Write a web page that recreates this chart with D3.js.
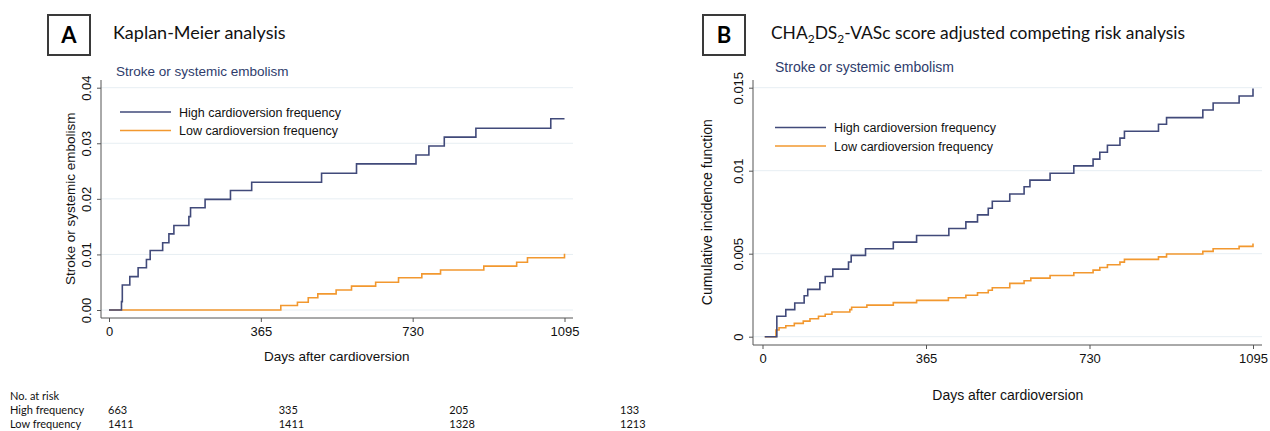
<!DOCTYPE html>
<html>
<head>
<meta charset="utf-8">
<script src="https://cdn.jsdelivr.net/npm/d3@7"></script>
<style>
  body { margin: 0; background: #fff; }
  svg { display: block; }
</style>
</head>
<body>
<div id="chart"></div>
<script>
// Panel A: Kaplan-Meier, step times (days) and cumulative proportion with event
const kmHighDays = [0, 30, 32, 50, 70, 90, 99, 129, 144, 156, 192, 196, 231, 292, 343, 511, 595, 738, 769, 806, 882, 1062, 1095];
const kmHighVals = [0, 0.0015, 0.0045, 0.0060, 0.0076, 0.0091, 0.0107, 0.0121, 0.0137, 0.0152, 0.0168, 0.0184, 0.0199, 0.0215, 0.0230, 0.0246, 0.0263, 0.0279, 0.0295, 0.0311, 0.0327, 0.0344, 0.0344];
const kmLowDays = [0, 413, 453, 479, 502, 546, 583, 641, 696, 752, 797, 901, 980, 1006, 1095];
const kmLowVals = [0, 0.0008, 0.0014, 0.0022, 0.0029, 0.0036, 0.0043, 0.0050, 0.0058, 0.0065, 0.0072, 0.0079, 0.0086, 0.0094, 0.0101];

// Panel B: adjusted cumulative incidence function
const cifHighDays = [5, 32, 52, 72, 93, 101, 128, 140, 157, 192, 198, 230, 292, 344, 416, 454, 480, 504, 513, 552, 584, 597, 642, 695, 738, 753, 770, 798, 808, 884, 902, 983, 1006, 1064, 1095];
const cifHighVals = [0, 0.00123, 0.00163, 0.00203, 0.00247, 0.00285, 0.00325, 0.00363, 0.00407, 0.0045, 0.0049, 0.0053, 0.0057, 0.0061, 0.00652, 0.00692, 0.00734, 0.00774, 0.00816, 0.0086, 0.00903, 0.00943, 0.00985, 0.01029, 0.0107, 0.01111, 0.01153, 0.01196, 0.01238, 0.0128, 0.0132, 0.01366, 0.01408, 0.0145, 0.01495];
const cifLowDays = [5, 30, 37, 52, 71, 91, 106, 125, 140, 155, 195, 199, 233, 292, 344, 415, 454, 480, 504, 513, 552, 584, 599, 642, 695, 738, 753, 770, 798, 808, 884, 902, 983, 1006, 1064, 1095];
const cifLowVals = [0, 0.0004, 0.00054, 0.00066, 0.0008, 0.00094, 0.00108, 0.00123, 0.00135, 0.00149, 0.00163, 0.00177, 0.0019, 0.00205, 0.00219, 0.00235, 0.0025, 0.00265, 0.0028, 0.00295, 0.00321, 0.00337, 0.00353, 0.00369, 0.00385, 0.00401, 0.00417, 0.00433, 0.00449, 0.00466, 0.00481, 0.00498, 0.00514, 0.0053, 0.00544, 0.00562];

const xTicks = [0, 365, 730, 1095];
const yTicksA = [0, 0.01, 0.02, 0.03, 0.04];
const yTicksB = [0, 0.005, 0.01, 0.015];
const legendLabels = ["High cardioversion frequency", "Low cardioversion frequency"];

// number at risk table
const riskTimes = [0, 365, 730, 1095];
const riskGroups = ["High frequency", "Low frequency"];
const riskHigh = [663, 335, 205, 133];
const riskLow = [1411, 1411, 1328, 1213];

const navy = "#414a7a";
const orange = "#f2982f";
const chartFont = "'Liberation Sans', Arial, sans-serif";
const slideFont = "Lato, 'Open Sans', sans-serif";

const svg = d3.select("#chart").append("svg")
    .attr("width", 1270)
    .attr("height", 431);

function zip(days, vals) {
    return days.map((d, i) => ({day: d, val: vals[i]}));
}

function drawPanel(p) {
    const x = d3.scaleLinear().domain([0, 1095]).range(p.xRange);
    const y = d3.scaleLinear().domain(p.yDomain).range(p.yRange);
    const g = svg.append("g");

    // letter box + slide title
    g.append("rect")
        .attr("x", p.box[0]).attr("y", p.box[1])
        .attr("width", 42).attr("height", 40)
        .attr("fill", "none").attr("stroke", "#3a3a3a").attr("stroke-width", 2);
    g.append("text")
        .attr("x", p.box[0] + 21).attr("y", p.box[1] + 28)
        .attr("text-anchor", "middle")
        .style("font-family", slideFont).style("font-weight", "bold").style("font-size", "22px")
        .text(p.letter);
    const title = g.append("text")
        .attr("x", p.titleX).attr("y", 39)
        .style("font-family", slideFont).style("font-size", p.titleSize + "px").style("fill", "#111");
    p.title.forEach(part => {
        title.append("tspan")
            .attr("dy", part.sub ? 4 : (part.after ? -4 : 0))
            .style("font-size", part.sub ? "12px" : null)
            .text(part.t);
    });

    g.append("text")
        .attr("x", p.subX).attr("y", p.subY)
        .style("font-family", chartFont).style("font-size", p.fs + "px").style("fill", "#2e3c6c")
        .text("Stroke or systemic embolism");

    // gridlines
    g.selectAll(".grid")
        .data(p.yTicks)
        .join("line")
        .attr("x1", p.axisX).attr("x2", p.rightX)
        .attr("y1", d => y(d)).attr("y2", d => y(d))
        .attr("stroke", "#e7eef3").attr("stroke-width", 1);

    // y axis
    const yAxis = g.append("g")
        .attr("transform", `translate(${p.axisX},0)`)
        .call(d3.axisLeft(y).tickValues(p.yTicks).tickFormat(p.yFormat).tickSize(4).tickSizeOuter(0));
    yAxis.select(".domain").remove();
    yAxis.append("line")
        .attr("y1", p.axisTop).attr("y2", p.axisY)
        .attr("stroke", "#555");
    yAxis.selectAll(".tick line").attr("stroke", "#555");
    yAxis.selectAll(".tick text")
        .attr("x", null).attr("dy", null)
        .attr("transform", "translate(-15,0) rotate(-90)")
        .attr("text-anchor", "middle")
        .attr("dy", "0.36em")
        .style("font-family", chartFont).style("font-size", "13px").style("fill", "#111");

    // x axis
    const xAxis = g.append("g")
        .attr("transform", `translate(0,${p.axisY})`)
        .call(d3.axisBottom(x).tickValues(xTicks).tickFormat(d3.format("d")).tickSize(4).tickSizeOuter(0));
    xAxis.select(".domain").remove();
    xAxis.append("line")
        .attr("x1", p.axisX).attr("x2", p.rightX)
        .attr("stroke", "#555");
    xAxis.selectAll(".tick line").attr("stroke", "#555");
    xAxis.selectAll(".tick text")
        .attr("y", 9)
        .style("font-family", chartFont).style("font-size", "13px").style("fill", "#111");

    // axis titles
    g.append("text")
        .attr("x", (p.xRange[0] + p.xRange[1]) / 2).attr("y", p.xTitleY)
        .attr("text-anchor", "middle")
        .style("font-family", chartFont).style("font-size", p.fs + "px").style("fill", "#111")
        .text("Days after cardioversion");
    g.append("text")
        .attr("transform", `translate(${p.yTitleX},${(p.yRange[0] + p.yRange[1]) / 2}) rotate(-90)`)
        .attr("text-anchor", "middle")
        .style("font-family", chartFont).style("font-size", p.fs + "px").style("fill", "#111")
        .text(p.yTitle);

    // step curves
    const line = d3.line()
        .x(d => x(d.day))
        .y(d => y(d.val))
        .curve(d3.curveStepAfter);
    [p.low, p.high].forEach((s, i) => {
        g.append("path")
            .datum(s)
            .attr("d", line)
            .attr("fill", "none")
            .attr("stroke", i === 0 ? orange : navy)
            .attr("stroke-width", 1.6);
    });

    // legend
    legendLabels.forEach((lab, i) => {
        const ly = p.legend[1] + i * p.legendGap;
        g.append("line")
            .attr("x1", p.legend[0]).attr("x2", p.legend[0] + 51)
            .attr("y1", ly).attr("y2", ly)
            .attr("stroke", i === 0 ? navy : orange).attr("stroke-width", 1.6);
        g.append("text")
            .attr("x", p.legend[0] + 59).attr("y", ly + 4.5)
            .style("font-family", chartFont).style("font-size", "12.5px").style("fill", "#111")
            .text(lab);
    });
}

drawPanel({
    letter: "A", box: [48, 15], titleX: 113, titleSize: 18,
    title: [{t: "Kaplan-Meier analysis"}],
    subX: 116, subY: 76, fs: 13.5,
    xRange: [109, 564.5], yRange: [310, 87.7], yDomain: [0, 0.04],
    yTicks: yTicksA, yFormat: d3.format(".2f"),
    axisX: 101, axisY: 318, axisTop: 80, rightX: 573,
    xTitleY: 361, yTitleX: 75, yTitle: "Stroke or systemic embolism",
    legend: [120, 112], legendGap: 18.5,
    high: zip(kmHighDays, kmHighVals), low: zip(kmLowDays, kmLowVals)
});

drawPanel({
    letter: "B", box: [703, 15], titleX: 771, titleSize: 17.4,
    title: [{t: "CHA"}, {t: "2", sub: true}, {t: "DS", after: true}, {t: "2", sub: true}, {t: "-VASc score adjusted competing risk analysis", after: true}],
    subX: 775, subY: 72, fs: 14,
    xRange: [762.5, 1253], yRange: [336.7, 87.7], yDomain: [0, 0.015],
    yTicks: yTicksB, yFormat: d => d === 0 ? "0" : String(d),
    axisX: 753, axisY: 345, axisTop: 80, rightX: 1262,
    xTitleY: 400, yTitleX: 712, yTitle: "Cumulative incidence function",
    legend: [775, 127.5], legendGap: 18.5,
    high: zip(cifHighDays, cifHighVals), low: zip(cifLowDays, cifLowVals)
});

// number at risk table under panel A
const riskX = d3.scaleLinear().domain([0, 1095]).range([108, 620]);
const table = svg.append("g")
    .style("font-family", slideFont).style("font-size", "11px").style("fill", "#111");
table.append("text").attr("x", 10).attr("y", 400).text("No. at risk");
[riskHigh, riskLow].forEach((row, i) => {
    const ry = 414 + i * 13.5;
    table.append("text").attr("x", 10).attr("y", ry).text(riskGroups[i]);
    table.selectAll(null)
        .data(row)
        .join("text")
        .attr("x", (d, j) => riskX(riskTimes[j]))
        .attr("y", ry)
        .text(d => d);
});
</script>
</body>
</html>
